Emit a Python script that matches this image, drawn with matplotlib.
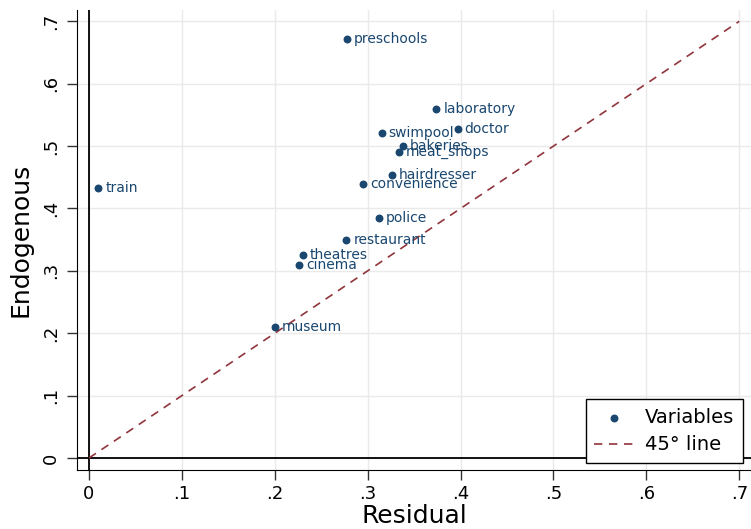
import matplotlib.pyplot as plt
import numpy as np

# datos
nombres = ['train', 'preschools', 'laboratory', 'doctor', 'swimpool', 'bakeries',
           'meat_shops', 'hairdresser', 'convenience', 'police', 'restaurant',
           'theatres', 'cinema', 'museum']
residual = [0.010, 0.278, 0.374, 0.397, 0.315, 0.338, 0.334, 0.326, 0.295, 0.312,
            0.277, 0.230, 0.226, 0.200]
endogenous = [0.432, 0.671, 0.559, 0.527, 0.521, 0.500, 0.491, 0.454, 0.440, 0.385,
              0.350, 0.326, 0.310, 0.210]
linea_45 = [0, 0.7]
ticks = [0, 0.1, 0.2, 0.3, 0.4, 0.5, 0.6, 0.7]
tick_labels = ['0', '.1', '.2', '.3', '.4', '.5', '.6', '.7']

navy = '#1a476f'
maroon = '#90353b'

fig = plt.figure(figsize=(7.51, 5.29), dpi=100)
ax = fig.add_axes([0.1025, 0.1115, 0.8975, 0.8695])

ax.set_xlim(-0.0129, 0.7126)
ax.set_ylim(-0.0192, 0.718)

ax.set_xticks(ticks)
ax.set_xticklabels(tick_labels)
ax.set_yticks(ticks)
ax.set_yticklabels(tick_labels, rotation=90, va='center')
ax.tick_params(axis='both', labelsize=13, length=7, width=1, color='#333333')
ax.tick_params(axis='y', pad=5)
ax.grid(True, color='#eaeaea', linewidth=1)
ax.set_axisbelow(True)

ax.spines['top'].set_visible(False)
ax.spines['right'].set_visible(False)

ax.axvline(0, color='black', linewidth=1.3, zorder=2)
ax.axhline(0, color='black', linewidth=1.3, zorder=2)

ax.plot(linea_45, linea_45, linestyle=(0, (5, 4)), color=maroon, linewidth=1.2,
        label='45° line', zorder=3)
ax.scatter(residual, endogenous, s=22, color=navy, label='Variables', zorder=4)
for n, x, y in zip(nombres, residual, endogenous):
    ax.annotate(n, (x, y), xytext=(5, 0), textcoords='offset points',
                va='center', ha='left', fontsize=10, color=navy, zorder=5)

ax.set_xlabel('Residual', fontsize=18, labelpad=1)
ax.set_ylabel('Endogenous', fontsize=18, labelpad=7)

h, l = ax.get_legend_handles_labels()
leg = ax.legend(h[::-1], l[::-1], loc='lower right', bbox_to_anchor=(0.988, 0.015),
                borderaxespad=0, fontsize=14, frameon=True, fancybox=False,
                edgecolor='black', framealpha=1, borderpad=0.45, handlelength=2.0,
                handletextpad=0.6, labelspacing=0.45)
leg.get_frame().set_linewidth(1)

plt.savefig('out.png', dpi=100)
